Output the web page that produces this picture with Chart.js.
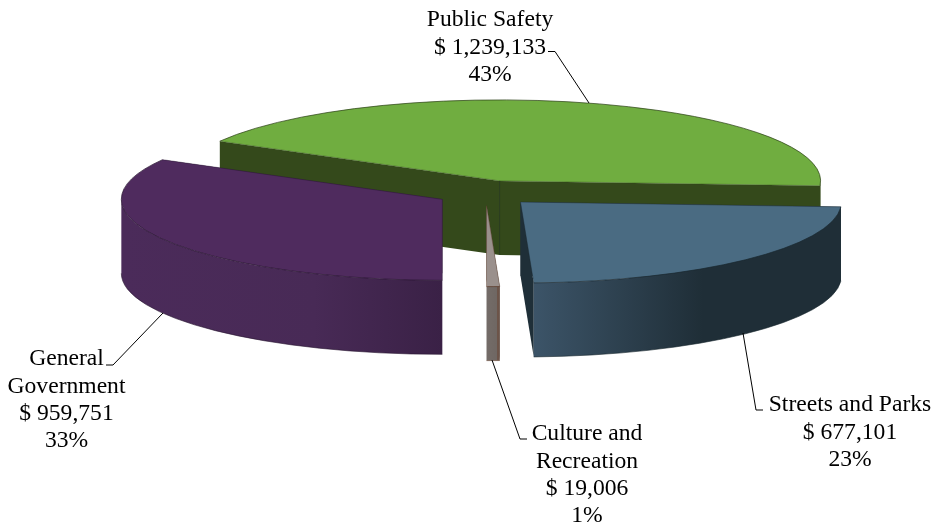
<!DOCTYPE html>
<html>
<head>
<meta charset="utf-8">
<title>Expenditures by function</title>
<script src="https://cdn.jsdelivr.net/npm/chart.js@4/dist/chart.umd.min.js"></script>
<style>
    html, body { margin: 0; padding: 0; background: #fff; }
    canvas { display: block; }
</style>
</head>
<body>
<canvas id="fundPie" width="935" height="527"></canvas>
<script>
// valores do gráfico
const categories = ['Public Safety', 'Streets and Parks', 'Culture and Recreation', 'General Government'];
const amounts = [1239133, 677101, 19006, 959751];
const percents = [43, 23, 1, 33];

// cores de cada fatia
const topColors = ['#70ad40', '#4a6b82', '#9a908c', '#4f2b5e'];
const faceColors = ['#34491b', '#1f2f38', '#6f6763', '#3a2146'];
const edgeColors = ['#2a3e16', '#18262e', '#5c3a28', '#27142f'];
const wallStops = [
    [[0, '#34491b'], [1, '#34491b']],
    [[0, '#3c5468'], [0.55, '#1f2e37'], [1, '#1f2e37']],
    [[0, '#746c68'], [0.78, '#6f6763'], [0.8, '#6c5449'], [1, '#6c5449']],
    [[0, '#4b2b5a'], [0.6, '#482a56'], [1, '#3a2146']]
];

// geometria da pizza em perspectiva
const RADIUS = 321;
const SQUASH = 81 / 321;
const DEPTH = 74;
const EXPLODE = 50;

// texto e linhas de chamada de cada rótulo
const labelLines = [
    ['Public Safety'],
    ['Streets and Parks'],
    ['Culture and', 'Recreation'],
    ['General', 'Government']
];
const labelAnchors = [[490, 20], [850, 405], [587, 434], [66.5, 359]];
const LINE_HEIGHT = 27.4;
const leaders = [
    [[548, 51.5], [555, 51.5], [589, 103]],
    [[743, 333], [756, 410], [763, 410]],
    [[492, 360], [520, 439], [527, 439]],
    [[163, 313], [113, 365], [106, 365]]
];

function sliceGeometry(arc) {
    const mid = (arc.startAngle + arc.endAngle) / 2;
    return {
        cx: arc.x + Math.cos(mid) * EXPLODE,
        cy: arc.y + Math.sin(mid) * EXPLODE * SQUASH,
        rx: arc.outerRadius,
        ry: arc.outerRadius * SQUASH
    };
}

function rimPoint(g, angle) {
    return [g.cx + g.rx * Math.cos(angle), g.cy + g.ry * Math.sin(angle)];
}

function drawRadialFace(ctx, g, angle, color) {
    const p = rimPoint(g, angle);
    ctx.beginPath();
    ctx.moveTo(g.cx, g.cy);
    ctx.lineTo(p[0], p[1]);
    ctx.lineTo(p[0], p[1] + DEPTH);
    ctx.lineTo(g.cx, g.cy + DEPTH);
    ctx.closePath();
    ctx.fillStyle = color;
    ctx.fill();
}

// parede externa: só a parte da frente da elipse aparece
function drawOuterWall(ctx, g, arc, index) {
    const from = Math.max(arc.startAngle, 0);
    const to = Math.min(arc.endAngle, Math.PI);
    if (to <= from) return;

    const xs = [rimPoint(g, from)[0], rimPoint(g, to)[0]];
    if (from <= 0 && to >= 0) xs.push(g.cx + g.rx);
    if (from <= Math.PI && to >= Math.PI) xs.push(g.cx - g.rx);
    const gradient = ctx.createLinearGradient(Math.min(...xs), 0, Math.max(...xs), 0);
    wallStops[index].forEach(function(stop) {
        gradient.addColorStop(stop[0], stop[1]);
    });

    ctx.beginPath();
    ctx.ellipse(g.cx, g.cy, g.rx, g.ry, 0, from, to);
    ctx.ellipse(g.cx, g.cy + DEPTH, g.rx, g.ry, 0, to, from, true);
    ctx.closePath();
    ctx.fillStyle = gradient;
    ctx.fill();

    ctx.beginPath();
    ctx.ellipse(g.cx, g.cy + DEPTH, g.rx, g.ry, 0, from, to);
    ctx.strokeStyle = edgeColors[index];
    ctx.lineWidth = 0.6;
    ctx.stroke();
}

function drawTopEdges(ctx, g, arc, index) {
    const a = rimPoint(g, arc.startAngle);
    const b = rimPoint(g, arc.endAngle);

    // contorno externo da fatia
    ctx.beginPath();
    ctx.ellipse(g.cx, g.cy, g.rx, g.ry, 0, arc.startAngle, arc.endAngle);
    ctx.strokeStyle = edgeColors[index];
    ctx.lineWidth = 0.7;
    ctx.stroke();

    // arestas retas, bem mais discretas
    ctx.beginPath();
    ctx.moveTo(a[0], a[1]);
    ctx.lineTo(g.cx, g.cy);
    ctx.lineTo(b[0], b[1]);
    ctx.lineWidth = 0.4;
    ctx.stroke();
}

const pie3d = {
    id: 'pie3d',
    beforeDatasetsDraw(chart) {
        const ctx = chart.ctx;
        const arcs = chart.getDatasetMeta(0).data;
        // fatia de trás primeiro
        [0, 3, 1, 2].forEach(function(i) {
            const arc = arcs[i];
            const g = sliceGeometry(arc);

            drawRadialFace(ctx, g, arc.startAngle, faceColors[i]);
            drawRadialFace(ctx, g, arc.endAngle, faceColors[i]);
            drawOuterWall(ctx, g, arc, i);

            ctx.save();
            ctx.translate(g.cx, g.cy);
            ctx.scale(1, SQUASH);
            ctx.translate(-arc.x, -arc.y);
            arc.draw(ctx);
            ctx.restore();

            drawTopEdges(ctx, g, arc, i);

            // aresta vertical no vértice da fatia
            if (i === 0) {
                ctx.beginPath();
                ctx.moveTo(g.cx, g.cy);
                ctx.lineTo(g.cx, g.cy + DEPTH);
                ctx.strokeStyle = '#26381a';
                ctx.lineWidth = 1;
                ctx.stroke();
            }
        });
        return false;
    },
    afterDraw(chart) {
        const ctx = chart.ctx;

        ctx.strokeStyle = '#000';
        ctx.lineWidth = 1;
        leaders.forEach(function(points) {
            ctx.beginPath();
            points.forEach(function(p, n) {
                if (n === 0) ctx.moveTo(p[0], p[1]);
                else ctx.lineTo(p[0], p[1]);
            });
            ctx.stroke();
        });

        ctx.fillStyle = '#000';
        ctx.font = '23.6px "Liberation Serif"';
        ctx.textAlign = 'center';
        ctx.textBaseline = 'middle';
        categories.forEach(function(name, i) {
            const lines = labelLines[i].concat([
                '$ ' + amounts[i].toLocaleString('en-US'),
                percents[i] + '%'
            ]);
            lines.forEach(function(text, n) {
                ctx.fillText(text, labelAnchors[i][0], labelAnchors[i][1] + n * LINE_HEIGHT);
            });
        });
    }
};

new Chart(document.getElementById('fundPie'), {
    type: 'pie',
    data: {
        labels: categories,
        datasets: [{
            data: amounts,
            backgroundColor: topColors,
            borderWidth: 0,
            radius: RADIUS
        }]
    },
    options: {
        responsive: false,
        animation: false,
        rotation: -60.65,
        layout: { padding: { left: 36, bottom: 141 } },
        plugins: {
            legend: { display: false },
            tooltip: { enabled: false }
        }
    },
    plugins: [pie3d]
});
</script>
</body>
</html>
